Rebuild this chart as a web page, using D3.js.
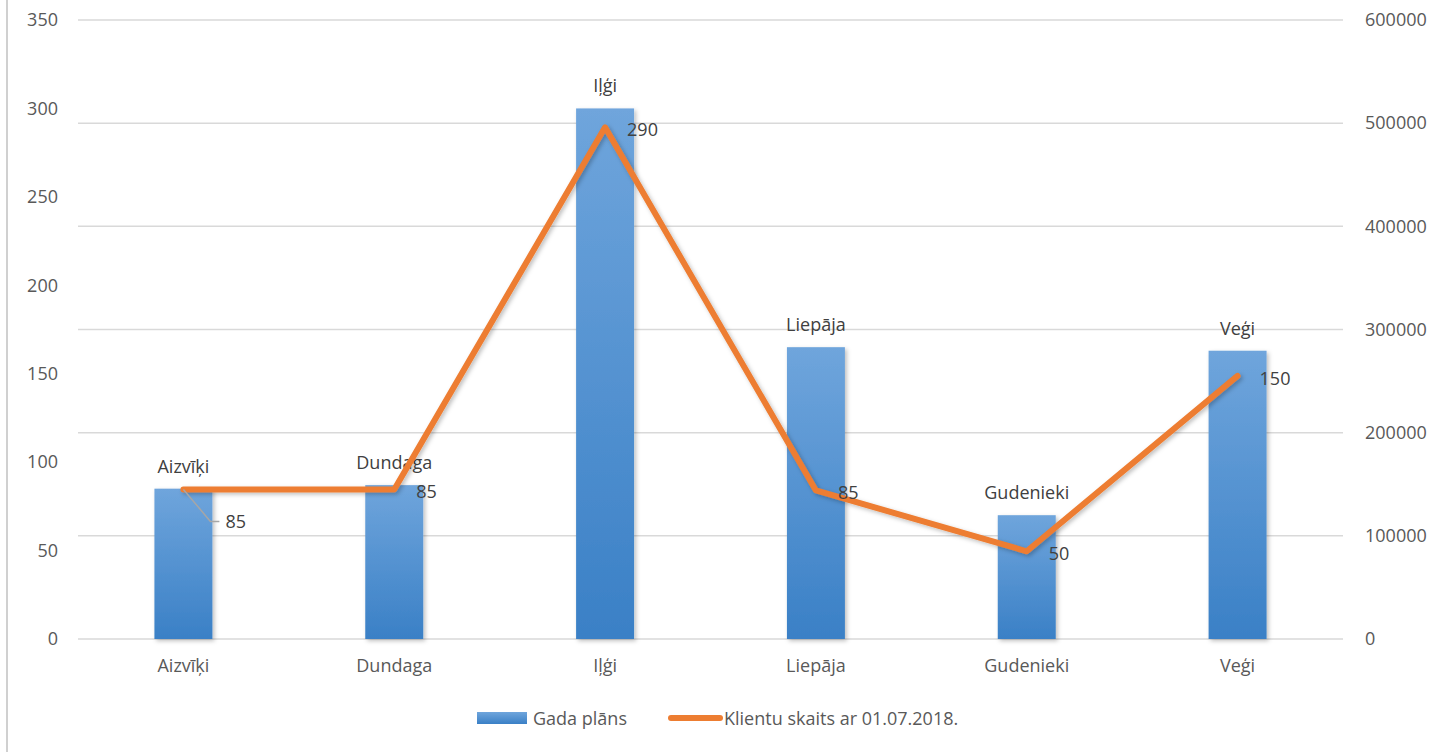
<!DOCTYPE html>
<html>
<head>
<meta charset="utf-8">
<script src="https://cdn.jsdelivr.net/npm/d3@7"></script>
<style>
  body { margin: 0; background: #fff; }
  svg text { font-family: "Open Sans", "Liberation Sans", sans-serif; }
</style>
</head>
<body>
<script>
(function () {

    var w = 1447;
    var h = 752;

    var categories = ["Aizvīķi", "Dundaga", "Iļģi", "Liepāja", "Gudenieki", "Veģi"];
    var gadaPlans = [85, 87, 300, 165, 70, 163];
    var klienti = [145000, 145000, 496000, 144000, 85000, 255000];
    var lineLabels = ["85", "85", "290", "85", "50", "150"];
    var leftTicks = [0, 50, 100, 150, 200, 250, 300, 350];
    var rightTicks = [0, 100000, 200000, 300000, 400000, 500000, 600000];

    var left = 78, right = 1343, top = 20, bottom = 639;

    var svg = d3.select("body").append("svg")
        .attr("width", w)
        .attr("height", h);

    var defs = svg.append("defs");
    var grad = defs.append("linearGradient")
        .attr("id", "barGrad")
        .attr("x1", 0).attr("y1", 0).attr("x2", 0).attr("y2", 1);
    grad.append("stop").attr("offset", "0%").attr("stop-color", "#6fa5dc");
    grad.append("stop").attr("offset", "100%").attr("stop-color", "#3a80c6");

    var shadow = defs.append("filter").attr("id", "shadow")
        .attr("x", "-20%").attr("y", "-20%").attr("width", "140%").attr("height", "140%");
    shadow.append("feDropShadow")
        .attr("dx", 2).attr("dy", 2).attr("stdDeviation", 2)
        .attr("flood-color", "#000").attr("flood-opacity", 0.25);

    // left frame edge
    svg.append("line")
        .attr("x1", 7).attr("x2", 7).attr("y1", 0).attr("y2", h)
        .attr("stroke", "#d0d0d0").attr("stroke-width", 2);

    var x = d3.scaleBand()
        .domain(categories)
        .range([left, right])
        .paddingInner(0.725)
        .paddingOuter(0.3625);

    var yL = d3.scaleLinear().domain([0, 350]).range([bottom, top]);
    var yR = d3.scaleLinear().domain([0, 600000]).range([bottom, top]);

    // gridlines (follow the right axis)
    svg.append("g").selectAll("line")
        .data(rightTicks)
        .enter()
        .append("line")
        .attr("x1", left).attr("x2", right)
        .attr("y1", function (d) { return yR(d); })
        .attr("y2", function (d) { return yR(d); })
        .attr("stroke", "#d9d9d9")
        .attr("stroke-width", 1.5);

    var axisL = svg.append("g")
        .attr("transform", "translate(" + (left - 20) + ",0)")
        .call(d3.axisLeft(yL).tickValues(leftTicks).tickSize(0).tickPadding(0));
    axisL.select(".domain").remove();
    axisL.selectAll("text").attr("font-size", 18).attr("fill", "#595959")
        .style("font-family", "'Open Sans', sans-serif");

    var axisR = svg.append("g")
        .attr("transform", "translate(" + (right + 22) + ",0)")
        .call(d3.axisRight(yR).tickValues(rightTicks).tickSize(0).tickPadding(0).tickFormat(d3.format("d")));
    axisR.select(".domain").remove();
    axisR.selectAll("text").attr("font-size", 18).attr("fill", "#595959")
        .style("font-family", "'Open Sans', sans-serif");

    var axisB = svg.append("g")
        .attr("transform", "translate(0," + bottom + ")")
        .call(d3.axisBottom(x).tickSize(0).tickPadding(20));
    axisB.select(".domain").remove();
    axisB.selectAll("text").attr("font-size", 18).attr("fill", "#595959")
        .style("font-family", "'Open Sans', sans-serif");

    // bars
    svg.append("g").selectAll("rect")
        .data(gadaPlans)
        .enter()
        .append("rect")
        .attr("x", function (d, i) { return x(categories[i]); })
        .attr("y", function (d) { return yL(d); })
        .attr("width", x.bandwidth())
        .attr("height", function (d) { return bottom - yL(d); })
        .attr("fill", "url(#barGrad)")
        .attr("filter", "url(#shadow)");

    // bar labels (category names)
    svg.append("g").selectAll("text")
        .data(gadaPlans)
        .enter()
        .append("text")
        .text(function (d, i) { return categories[i]; })
        .attr("x", function (d, i) { return x(categories[i]) + x.bandwidth() / 2; })
        .attr("y", function (d) { return yL(d) - 16; })
        .attr("text-anchor", "middle")
        .attr("font-size", 18)
        .attr("fill", "#404040");

    // line
    var cx = function (i) { return x(categories[i]) + x.bandwidth() / 2; };
    var line = d3.line()
        .x(function (d, i) { return cx(i); })
        .y(function (d) { return yR(d); });

    svg.append("path")
        .datum(klienti)
        .attr("d", line)
        .attr("fill", "none")
        .attr("stroke", "#ed7d31")
        .attr("stroke-width", 6)
        .attr("stroke-linejoin", "round")
        .attr("stroke-linecap", "round")
        .attr("filter", "url(#shadow)");

    // line labels; the first one has a leader line
    svg.append("polyline")
        .attr("points", [
            [cx(0), yR(klienti[0])],
            [cx(0) + 27, yR(klienti[0]) + 32],
            [cx(0) + 36, yR(klienti[0]) + 32]
        ].map(function (p) { return p.join(","); }).join(" "))
        .attr("fill", "none")
        .attr("stroke", "#a6a6a6")
        .attr("stroke-width", 1.5);

    svg.append("g").selectAll("text")
        .data(klienti)
        .enter()
        .append("text")
        .text(function (d, i) { return lineLabels[i]; })
        .attr("x", function (d, i) { return i === 0 ? cx(i) + 42 : cx(i) + 22; })
        .attr("y", function (d, i) { return i === 0 ? yR(d) + 39 : yR(d) + 9; })
        .attr("font-size", 18)
        .attr("fill", "#404040");

    // legend
    var lg = svg.append("g");
    lg.append("rect")
        .attr("x", 477).attr("y", 712).attr("width", 50).attr("height", 12)
        .attr("fill", "url(#barGrad)");
    lg.append("text")
        .attr("x", 533).attr("y", 725)
        .attr("font-size", 18).attr("fill", "#595959")
        .text("Gada plāns");
    lg.append("line")
        .attr("x1", 671).attr("x2", 720).attr("y1", 718).attr("y2", 718)
        .attr("stroke", "#ed7d31").attr("stroke-width", 6).attr("stroke-linecap", "round");
    lg.append("text")
        .attr("x", 724).attr("y", 725)
        .attr("font-size", 18).attr("fill", "#595959")
        .text("Klientu skaits ar 01.07.2018.");
})();
</script>
</body>
</html>
